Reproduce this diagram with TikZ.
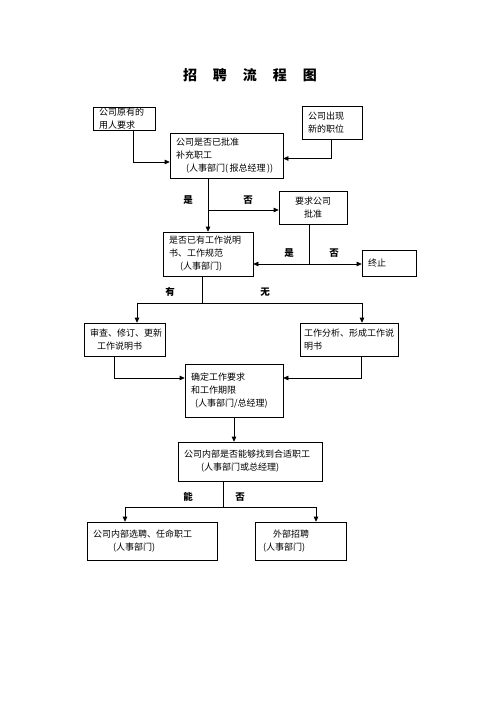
\documentclass[tikz,border=0pt]{standalone}
\usepackage{fontspec}
\setmainfont{Noto Sans CJK SC}
\usetikzlibrary{positioning,arrows.meta}

\begin{document}
\begin{tikzpicture}[x=1pt,y=-1pt]
%styles
	\tikzset{
	box/.style={draw, line width=0.6pt, inner xsep=6pt, inner ysep=0pt, align=left, font=\fontsize{9}{13}\selectfont},
	arrow/.style={-{Triangle[length=5pt,width=4.5pt]}, line width=0.6pt},
	line/.style={line width=0.6pt},
	lab/.style={font=\fontsize{9.5}{11}\selectfont\bfseries}}

	\useasboundingbox (0,0) rectangle (500,707);

%Titel
	\node (title) at (250,75) {\fontsize{14}{16}\selectfont\bfseries 招\hspace{16pt}聘\hspace{16pt}流\hspace{16pt}程\hspace{16pt}图};

%Kaesten
	\node[box, text width=50pt, minimum height=23pt] (need) at (124,118.5) {公司原有的\\用人要求};
	\node[box, text width=48pt, minimum height=33pt] (newpos) at (332,122.5) {公司出现\\新的职位};
	\node[box, text width=101pt, minimum height=45pt] (approve) at (226.5,155.5) {公司是否已批准\\补充职工\\\hspace*{10pt}(人事部门(\,报总经理\,))};
	\node[box, text width=56pt, minimum height=33pt, align=center] (request) at (313,207.5) {要求公司\\批准};
	\node[box, text width=78pt, minimum height=44pt] (spec) at (208,254) {是否已有工作说明\\书、工作规范\\\hspace*{11pt}(人事部门)};
	\node[box, text width=42pt, minimum height=26pt] (stop) at (389,263) {终止};
	\node[box, text width=69pt, minimum height=33pt] (revise) at (124.5,339.5) {审查、修订、更新\\\hspace*{7pt}工作说明书};
	\node[box, inner xsep=4pt, text width=90pt, minimum height=33pt] (analyse) at (349,339.5) {工作分析、形成工作说\\明书};
	\node[box, text width=86pt, minimum height=53pt] (define) at (234,390.5) {确定工作要求\\和工作期限\\\hspace*{4pt}(人事部门/总经理)};
	\node[box, text width=132pt, minimum height=39pt] (internal) at (250,461.5) {公司内部是否能够找到合适职工\\\hspace*{17pt}(人事部门或总经理)};
	\node[box, text width=118pt, minimum height=38pt] (select) at (152,541) {公司内部选聘、任命职工\\\hspace*{20pt}(人事部门)};
	\node[box, text width=79pt, minimum height=38pt] (external) at (300.5,541) {\hspace*{12pt}外部招聘\\\hspace*{2pt}(人事部门)};

%Verbindungen
	\draw[arrow] ([xshift=9pt]need.south) |- ([yshift=-6.5pt]approve.west);
	\draw[arrow] ([xshift=-1pt]newpos.south) |- ([yshift=-3pt]approve.east);

	\coordinate (c1) at (208,210);
	\draw[arrow] (c1 |- approve.south) -- (spec.north);
	\draw[arrow] (c1) -- (c1 -| request.west);

	\coordinate (c2) at (309,264);
	\draw[line] (c2 |- request.south) -- (c2);
	\draw[arrow] (c2) -- (c2 -| spec.east);
	\draw[arrow] (c2) -- (c2 -| stop.west);

	\coordinate (c3) at (202,303);
	\draw[line] (c3 |- spec.south) -- (c3);
	\draw[arrow] (c3) -| ([xshift=12.5pt]revise.north);
	\draw[arrow] (c3) -| ([xshift=13pt]analyse.north);

	\draw[arrow] ([xshift=-10.5pt]revise.south) |- ([yshift=12.5pt]define.west);
	\draw[arrow] ([xshift=12pt]analyse.south) |- ([yshift=12.5pt]define.east);
	\draw[arrow] (define.south) -- (define.south |- internal.north);

	\coordinate (c4) at (223,507);
	\draw[line] (c4 |- internal.south) -- (c4);
	\draw[arrow] (c4) -| ([xshift=-27pt]select.north);
	\draw[arrow] (c4) -| ([xshift=15.5pt]external.north);

%Beschriftung
	\node[lab] (yes1) at (188,200) {是};
	\node[lab] (no1) at (248,200) {否};
	\node[lab] (yes2) at (289,253) {是};
	\node[lab] (no2) at (334,253) {否};
	\node[lab] (have) at (170,292) {有};
	\node[lab] (none) at (265,292) {无};
	\node[lab] (can) at (188,497) {能};
	\node[lab] (no3) at (240,497) {否};

\end{tikzpicture}
\end{document}
